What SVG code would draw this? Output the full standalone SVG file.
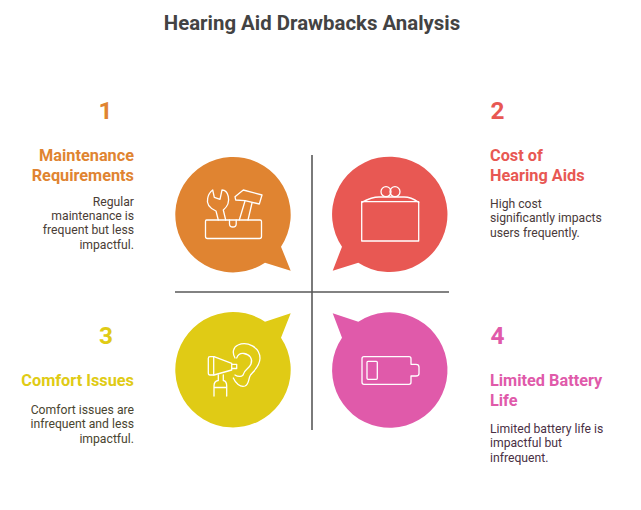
<svg xmlns="http://www.w3.org/2000/svg" width="641" height="510" viewBox="0 0 641 510">
<style>
text{font-family:Roboto,"Liberation Sans",sans-serif}
.title{font-size:20.4px;font-weight:700;fill:#434343}
.num{font-size:24.4px;font-weight:700}
.head{font-size:16.3px;font-weight:700}
.body{font-size:12.2px}
.end{text-anchor:end}
.ic{fill:none;stroke:#fff;stroke-width:1.3;stroke-linejoin:round;stroke-linecap:round}
.ln{stroke:#595959;stroke-width:1.6;fill:none}
</style>
<rect width="641" height="510" fill="#fff"/>
<text class="title" x="312" y="30" text-anchor="middle">Hearing Aid Drawbacks Analysis</text>
<g id="connectors">
<line class="ln" x1="312" y1="155" x2="312" y2="430"/>
<line class="ln" x1="175" y1="292" x2="449" y2="292"/>
</g>
<g id="node-1">
<path fill="#e08431" d="M281 246.700L290.700 270.700L265 262.700A57.700 57.700 0 1 1 281 246.700Z"/>
<g class="ic">
<path d="M206.500 220H260Q261.500 220 261.500 221.500V236.500Q261.500 238.500 259.500 238.500H207.500Q205.500 238.500 205.500 236.500V221.500Q205.500 220 206.500 220Z"/>
<path d="M218.300 220L216 211C209 208 206.500 203 207.700 198C208.300 195 210 192 212.700 190L214.300 197.300L220 199.300L222 190C225 190 227.500 193 228.300 196.500C229.500 202 227 207 223.300 210L225.700 220"/>
<path d="M229.500 220V224C229.500 228 236.200 228 236.200 224V220"/>
<path d="M239.300 220L245 201M248 220L252 203"/>
<path d="M235 196.700L243.300 190L262 195L259.300 204L245 200.700L235.700 200Z"/>
</g>
<text class="num" x="105.500" y="119" text-anchor="middle" fill="#e08431">1</text>
<text class="head end" fill="#e08431"><tspan x="134" y="161">Maintenance</tspan><tspan x="134" y="181">Requirements</tspan></text>
<text class="body end" fill="#4a3d36"><tspan x="134" y="206">Regular</tspan><tspan x="134" y="220">maintenance is</tspan><tspan x="134" y="234">frequent but less</tspan><tspan x="134" y="249">impactful.</tspan></text>
</g>
<g id="node-2">
<path fill="#e85853" d="M342 246.700L332.700 270.700L358.300 262.700A57.700 57.700 0 1 0 342 246.700Z"/>
<g class="ic">
<rect x="361.700" y="201.700" width="57" height="39.300"/>
<path d="M361.700 202.300Q372 197 379 197H404Q411 197 418.700 202.300"/>
<circle cx="386" cy="191.700" r="5"/><circle cx="395" cy="191.700" r="5"/>
</g>
<text class="num" x="497.500" y="119" text-anchor="middle" fill="#e85853">2</text>
<text class="head" fill="#e85853"><tspan x="490" y="161">Cost of</tspan><tspan x="490" y="181">Hearing Aids</tspan></text>
<text class="body" fill="#4a3a3a"><tspan x="490" y="208">High cost</tspan><tspan x="490" y="222">significantly impacts</tspan><tspan x="490" y="237">users frequently.</tspan></text>
</g>
<g id="node-3">
<path fill="#e0cb15" d="M281 337.700L290.700 313.300L265 321.700A57.700 57.700 0 1 0 281 337.700Z"/>
<g class="ic">
<path d="M210 356.700Q208.300 356.700 208.300 358.500V373Q208.300 375 210 375H214L231.700 370V363.300L214 356.700Z"/>
<path d="M213.700 356.700V375M231.700 364.300H236.700V368.500H231.700"/>
<path d="M218.300 375V380.500M223.300 375V380.500M218 380.500C215.500 381 214 383 214 386V396M223.500 380.500C226 381 226.700 383 226.700 386V396M214 387.500H226.700"/>
<path d="M235 358C232 353 233 347 238 345C247 341 260 347 260 358.300C260 366 254 371 250.500 375C248 379 249.500 384 245 386C240 387.500 235.500 383 233.300 378"/>
<path d="M236.700 358C238 354.500 241 353 244 353.500C250 354.500 253 359 251 364C249 369 244 370 243.500 374C243 377 238 377 235 375"/>
</g>
<text class="num" x="106" y="344" text-anchor="middle" fill="#e0cb15">3</text>
<text class="head end" x="134" y="386" fill="#e0cb15">Comfort Issues</text>
<text class="body end" fill="#4a4530"><tspan x="134" y="414">Comfort issues are</tspan><tspan x="134" y="428">infrequent and less</tspan><tspan x="134" y="443">impactful.</tspan></text>
</g>
<g id="node-4">
<path fill="#e05aaa" d="M342 337.700L332.700 313.300L358.300 321.700A57.700 57.700 0 1 1 342 337.700Z"/>
<g class="ic">
<path d="M364 356.700H409Q411 356.700 411 358.700V364.300H416Q419 364.300 419 367V373.500Q419 376 416 376H411V382.300Q411 384.300 409 384.300H364Q362 384.300 362 382.300V358.700Q362 356.700 364 356.700Z"/>
<rect x="367" y="361.300" width="10.300" height="18" rx="1"/>
</g>
<text class="num" x="497.500" y="344" text-anchor="middle" fill="#e05aaa">4</text>
<text class="head" fill="#e05aaa"><tspan x="490" y="386">Limited Battery</tspan><tspan x="490" y="406">Life</tspan></text>
<text class="body" fill="#4a3044"><tspan x="490" y="433">Limited battery life is</tspan><tspan x="490" y="447">impactful but</tspan><tspan x="490" y="462">infrequent.</tspan></text>
</g>
</svg>
